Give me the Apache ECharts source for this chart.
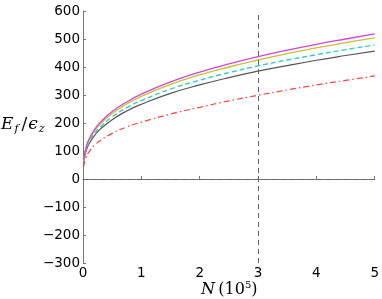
<!DOCTYPE html>
<html><head><meta charset="utf-8">
<script src="https://cdn.jsdelivr.net/npm/echarts@6/dist/echarts.min.js"></script>
<style>html,body{margin:0;padding:0;background:#fff}#c{width:382px;height:299px}</style>
</head><body><div id="c"></div>
<script>
const nValues = [0.01, 0.05, 0.1, 0.2, 0.3, 0.5, 0.75, 1, 1.5, 2, 2.5, 3, 3.5, 4, 4.5, 5];
const magenta = [65, 112, 141, 177, 203, 241, 275, 303, 347, 382, 411, 437, 460, 481, 500, 518];
const yellow  = [63, 109, 137, 173, 197, 234, 268, 295, 338, 372, 400, 425, 448, 468, 487, 504];
const cyan    = [60, 103, 130, 164, 187, 222, 255, 280, 321, 353, 380, 404, 425, 444, 462, 479];
const black   = [57, 98, 124, 156, 179, 212, 243, 267, 306, 336, 362, 385, 405, 424, 441, 457];
const red     = [44, 76, 96, 121, 138, 163, 186, 203, 232, 256, 279, 299, 318, 336, 352, 368];
const xTicks = [0, 1, 2, 3, 4, 5];
const yTicks = [-300, -200, -100, 0, 100, 200, 300, 400, 500, 600];
const refX = 3;
const refY = 0;

const pairs = arr => nValues.map((n, i) => [n, arr[i]]);
const chart = echarts.init(document.getElementById('c'), null, {renderer: 'canvas'});
const font = 'DejaVu Sans, sans-serif';
const serif = 'DejaVu Serif, serif';
const mk = (name, data, color, type, width) => ({
  name, type: 'line', data: pairs(data), showSymbol: false, smooth: true,
  lineStyle: {color, type, width}, z: 3, silent: true, animation: false
});
chart.setOption({
  animation: false,
  grid: {left: 83, right: 7, top: 11, bottom: 36, containLabel: false},
  xAxis: {
    type: 'value', min: xTicks[0], max: xTicks[xTicks.length - 1], interval: 1,
    axisLine: {show: true, lineStyle: {color: '#777', width: 1}},
    axisTick: {show: true, inside: true, length: 3, lineStyle: {color: '#777'}},
    splitLine: {show: false},
    axisLabel: {color: '#000', fontSize: 13.5, fontFamily: font, margin: 3}
  },
  yAxis: {
    type: 'value', min: yTicks[0], max: yTicks[yTicks.length - 1], interval: 100,
    axisLine: {show: true, lineStyle: {color: '#777', width: 1}},
    axisTick: {show: true, inside: true, length: 3, lineStyle: {color: '#777'}},
    splitLine: {show: false},
    axisLabel: {color: '#000', fontSize: 13.5, fontFamily: font, margin: 3,
      formatter: v => String(v).replace('-', '\u2212')}
  },
  series: [
    mk('black', black, '#555555', 'solid', 1.2),
    mk('red', red, '#ff4040', [6, 3, 1.5, 3], 1.2),
    mk('cyan', cyan, '#33cccc', [5, 3], 1.4),
    mk('yellow', yellow, '#c8c030', 'solid', 1.3),
    mk('magenta', magenta, '#d644d6', 'solid', 1.3),
    {
      type: 'line', data: [], silent: true, animation: false,
      markLine: {
        silent: true, symbol: ['none', 'none'], label: {show: false},
        lineStyle: {color: '#666', type: [5, 4], width: 1},
        data: [{xAxis: refX}, {yAxis: refY}]
      }
    }
  ],
  graphic: [
    {type: 'text', left: 1, top: 116, style: {
      rich: {
        i: {fontFamily: serif, fontStyle: 'italic', fontSize: 17, fill: '#000'},
        s: {fontFamily: serif, fontStyle: 'italic', fontSize: 11, fill: '#000', verticalAlign: 'bottom', padding: [10, 2, 0, 1]},
        n: {fontFamily: serif, fontSize: 17, fill: '#000', padding: [0, 1, 0, 1]}
      },
      text: '{i|E}{s|f}{n|/}{i|\u03f5}{s|z}'
    }},
    {type: 'text', left: 201, top: 280, style: {
      rich: {
        i: {fontFamily: serif, fontStyle: 'italic', fontSize: 16, fill: '#000'},
        n: {fontFamily: serif, fontSize: 16, fill: '#000'},
        sup: {fontFamily: serif, fontSize: 10, fill: '#000', padding: [0, 0, 9, 0]}
      },
      text: '{i|N} {n|(10}{sup|5}{n|)}'
    }}
  ]
});
</script></body></html>
